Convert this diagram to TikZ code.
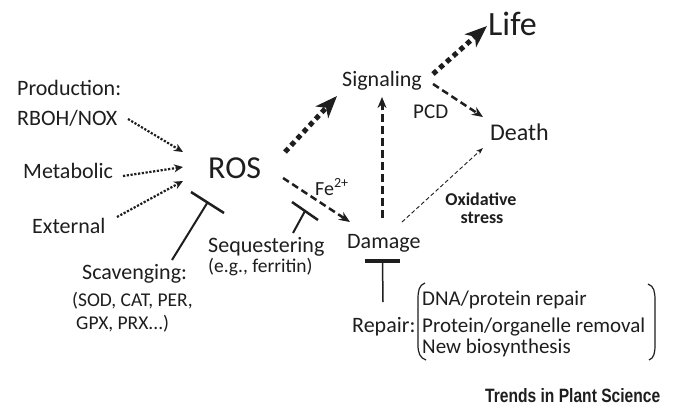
\documentclass[tikz,border=0pt]{standalone}
\usepackage{fontspec}
\usepackage{graphicx}
\setmainfont{Carlito}
\newfontfamily\trendsfont{Liberation Sans}
\usetikzlibrary{arrows.meta,calc}
\definecolor{ink}{RGB}{30,30,30}
\begin{document}
\begin{tikzpicture}[x=1pt,y=-1pt,
  lbl/.style={inner sep=0pt, anchor=base west, text=ink, font=\fontsize{22}{26}\selectfont},
  small/.style={lbl, font=\fontsize{19.5}{23}\selectfont},
  big/.style={lbl, font=\fontsize{32}{36}\selectfont},
  dotarrow/.style={draw=ink, line width=2.2pt, dash pattern=on 2.2pt off 1.6pt, -{Stealth[length=9pt,width=8pt]}},
  thickdot/.style={draw=ink, line width=5pt, dash pattern=on 5pt off 4pt, -{Stealth[length=22pt,width=17pt,inset=6pt]}},
  dasharrow/.style={draw=ink, line width=2.5pt, dash pattern=on 7pt off 4pt, -{Stealth[length=11pt,width=9pt]}},
  thindash/.style={draw=ink, line width=0.9pt, dash pattern=on 4pt off 2.5pt, -{Stealth[length=7pt,width=5pt]}},
  tbar/.style={draw=ink, line width=2.5pt},
  tstem/.style={draw=ink, line width=2pt},
  paren/.style={draw=ink, line width=1.2pt}]
\useasboundingbox[fill=white] (0,0) rectangle (682,405);

% text nodes
\node[lbl] (prod) at (17,95) {Production:};
\node[lbl] (rboh) at (17,125) {RBOH/NOX};
\node[lbl] (metab) at (23,178) {Metabolic};
\node[lbl] (ext) at (32,233) {External};
\node[big] (ros) at (208,178) {ROS};
\node[lbl] (sig) at (342,86) {Signaling};
\node[lbl, font=\fontsize{34}{38}\selectfont] (life) at (488,35) {Life};
\node[lbl, font=\fontsize{21}{25}\selectfont] (pcd) at (413,118) {PCD};
\node[lbl, font=\fontsize{24}{28}\selectfont] (death) at (490,140) {Death};
\node[lbl, font=\fontsize{20}{24}\selectfont] (fe) at (315,195) {Fe\textsuperscript{2+}};
\node[lbl] (seq) at (208,252) {Sequestering};
\node[small] (ferr) at (208,272) {(e.g., ferritin)};
\node[lbl] (damage) at (347,248) {Damage};
\node[lbl] (scav) at (82,279) {Scavenging:};
\node[small] (sod) at (72,306) {(SOD, CAT, PER,};
\node[small] (gpx) at (76,329) {GPX, PRX...)};
\node[lbl, anchor=base, font=\bfseries\fontsize{18}{21}\selectfont] (oxid) at (481,205) {Oxidative};
\node[lbl, anchor=base, font=\bfseries\fontsize{18}{21}\selectfont] (stress) at (482,223) {stress};
\node[lbl] (repair) at (352,332) {Repair:};
\node[lbl, font=\fontsize{21}{25}\selectfont] (dna) at (422,305) {DNA/protein repair};
\node[lbl, font=\fontsize{21}{25}\selectfont] (prot) at (422,332) {Protein/organelle removal};
\node[lbl, font=\fontsize{21}{25}\selectfont] (newb) at (422,353) {New biosynthesis};
\node[lbl, font=\trendsfont\bfseries\fontsize{18}{21}\selectfont] (trends) at (485,402) {\resizebox{175pt}{14pt}{Trends in Plant Science}};

% connector end points
\coordinate (rbohOut) at (128,119);
\coordinate (rosIn1) at (183,152);
\coordinate (metabOut) at (123,176);
\coordinate (rosIn2) at (183,167);
\coordinate (extOut) at (117,217);
\coordinate (rosIn3) at (183,181);
\coordinate (rosOut1) at (285,152);
\coordinate (sigIn1) at (337,96);
\coordinate (sigOut1) at (433,74);
\coordinate (lifeIn) at (487,26);
\coordinate (sigOut2) at (433,84);
\coordinate (deathIn1) at (483,117);
\coordinate (dmgOut1) at (382,218);
\coordinate (sigIn2) at (382,97);
\coordinate (rosOut2) at (283,178);
\coordinate (dmgIn) at (350,222);
\coordinate (dmgOut2) at (402,222);
\coordinate (deathIn2) at (483,148);

% dotted production arrows
\draw[dotarrow] (rbohOut) -- (rosIn1);
\draw[dotarrow] (metabOut) -- (rosIn2);
\draw[dotarrow] (extOut) -- (rosIn3);
% thick dotted arrows
\draw[thickdot] (rosOut1) -- (sigIn1);
\draw[thickdot] (sigOut1) -- (lifeIn);
% dashed arrows
\draw[dasharrow] (sigOut2) -- (deathIn1);
\draw[dasharrow, line width=3pt, dash pattern=on 8pt off 4pt] (dmgOut1) -- (sigIn2);
\draw[dasharrow] (rosOut2) -- (dmgIn);
\draw[thindash] (dmgOut2) -- (deathIn2);

% scavenging inhibition
\coordinate (scavBarA) at (191,192);
\coordinate (scavBarB) at (224,213);
\coordinate (scavStem) at (172,260);
\draw[tbar] (scavBarA) -- (scavBarB);
\draw[tstem] ($(scavBarA)!0.5!(scavBarB)$) -- (scavStem);

% sequestering inhibition
\coordinate (seqBarA) at (292,202);
\coordinate (seqBarB) at (318,220);
\coordinate (seqStem) at (293,233);
\draw[tbar] (seqBarA) -- (seqBarB);
\draw[tstem] ($(seqBarA)!0.5!(seqBarB)$) -- (seqStem);

% repair inhibition
\coordinate (repBarA) at (365,261);
\coordinate (repBarB) at (400,261);
\coordinate (repStem) at (383,302);
\draw[draw=ink, line width=4pt] (repBarA) -- (repBarB);
\draw[draw=ink, line width=1.5pt] ($(repBarA)!0.5!(repBarB)$) -- (repStem);

% parentheses
\draw[paren] (425,283) .. controls (419,285) and (418,291) .. (418,299) -- (418,345) .. controls (418,353) and (420,358) .. (426,360);
\draw[paren] (648,284) .. controls (654,286) and (655,292) .. (655,300) -- (655,345) .. controls (655,353) and (654,358) .. (649,360);
\end{tikzpicture}
\end{document}
